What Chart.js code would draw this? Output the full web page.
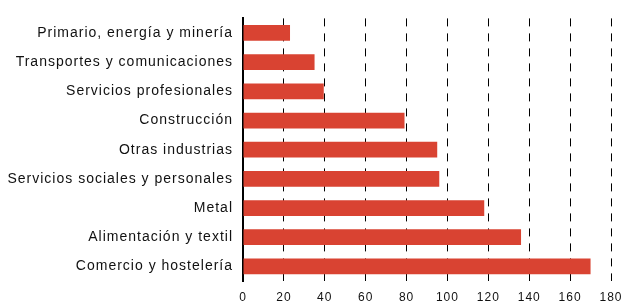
<!DOCTYPE html>
<html>
<head>
<meta charset="utf-8">
<script src="https://cdn.jsdelivr.net/npm/chart.js@4/dist/chart.umd.min.js"></script>
<style>
  html, body { margin: 0; padding: 0; background: #fff; }
  #wrap { width: 624px; height: 306px; }
</style>
</head>
<body>
<div id="wrap"><canvas id="barChart" width="624" height="306"></canvas></div>
<script>
const sectors = [
    'Primario, energía y minería',
    'Transportes y comunicaciones',
    'Servicios profesionales',
    'Construcción',
    'Otras industrias',
    'Servicios sociales y personales',
    'Metal',
    'Alimentación y textil',
    'Comercio y hostelería'
];
const values = [23, 35, 39.5, 79, 95, 96, 118, 136, 170];
const xMin = 0;
const xMax = 180;
const xStep = 20;

// canvas letter spacing, the original text is a bit spread out
const spacing = {
    id: 'spacing',
    beforeDraw(chart) {
        chart.ctx.letterSpacing = '1px';
    }
};

let ctx = document.getElementById('barChart').getContext('2d');

let barChart = new Chart(ctx, {
    type: 'bar',
    data: {
        labels: sectors,
        datasets: [{
            data: values,
            backgroundColor: 'rgb(217, 67, 50)',
            borderWidth: 0,
            categoryPercentage: 1,
            barPercentage: 0.54
        }]
    },
    options: {
        indexAxis: 'y',
        responsive: false,
        maintainAspectRatio: false,
        animation: false,
        layout: {
            padding: { top: 15, right: 13, left: 0, bottom: 0 }
        },
        plugins: {
            legend: { display: false },
            tooltip: { enabled: false }
        },
        scales: {
            x: {
                min: xMin,
                max: xMax,
                ticks: {
                    stepSize: xStep,
                    color: '#111',
                    padding: 9,
                    font: { family: 'Liberation Sans', size: 12 }
                },
                grid: {
                    color: (c) => c.tick && c.tick.value === 0 ? 'rgba(0,0,0,0)' : '#000',
                    lineWidth: 1,
                    drawTicks: false
                },
                border: {
                    display: false,
                    dash: [8, 7]
                },
                afterFit(scale) {
                    scale.height = 25;
                    scale.paddingRight = 0;
                }
            },
            y: {
                ticks: {
                    color: '#111',
                    padding: 10,
                    font: { family: 'Liberation Sans', size: 14 }
                },
                grid: {
                    display: false,
                    drawTicks: false
                },
                border: {
                    display: true,
                    color: '#000',
                    width: 2
                },
                afterFit(scale) {
                    scale.width = 243;
                }
            }
        }
    },
    plugins: [spacing]
});
</script>
</body>
</html>
